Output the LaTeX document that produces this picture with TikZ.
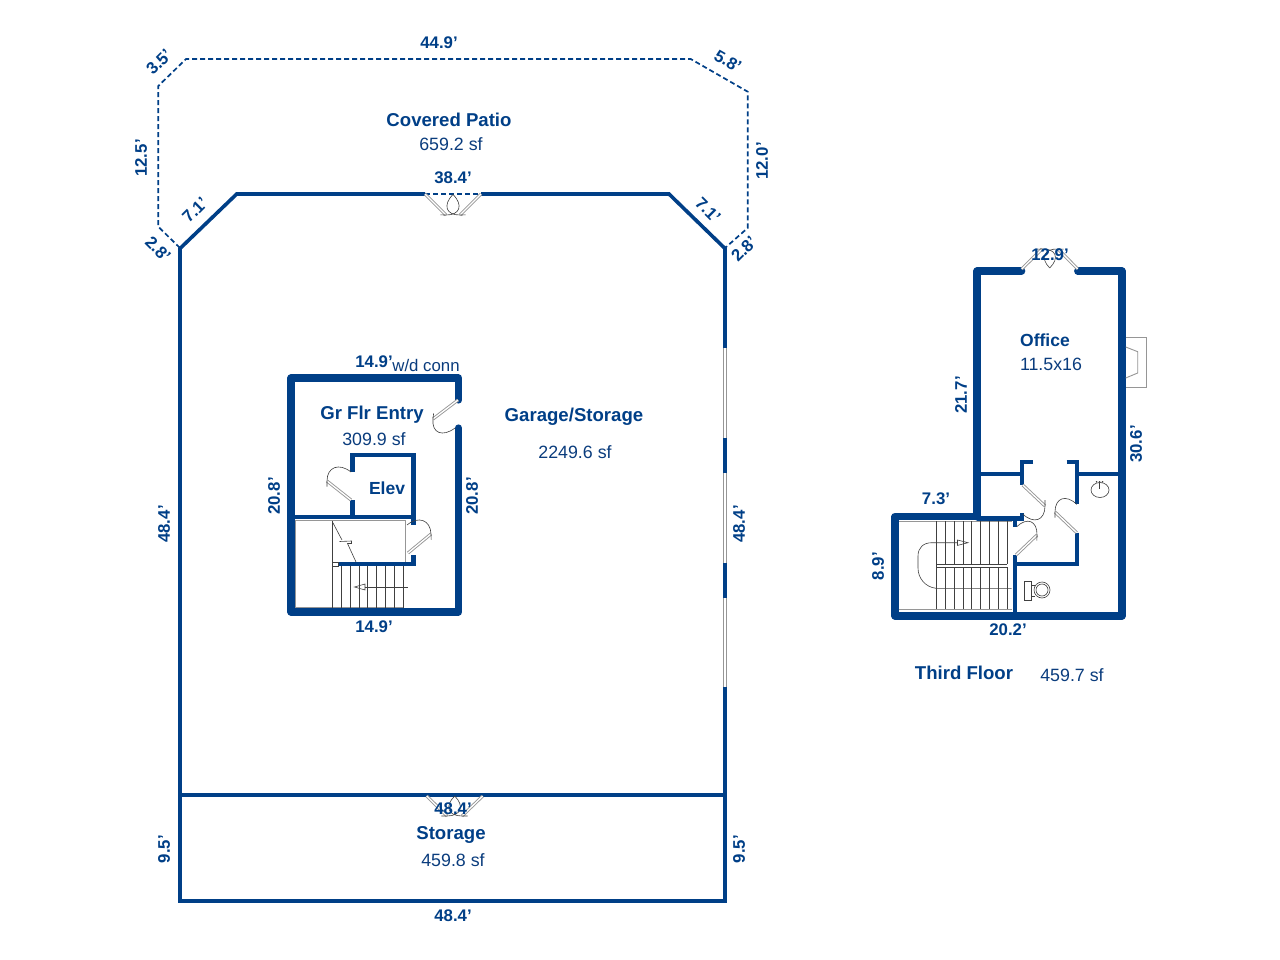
\documentclass[tikz,border=0pt]{standalone}
\usepackage{fontspec}
\setmainfont{Liberation Sans}
\usetikzlibrary{calc}
\definecolor{wallblue}{RGB}{0,63,135}
\definecolor{inkblue}{RGB}{10,60,125}
\definecolor{fixgray}{RGB}{150,150,150}
\tikzset{
  wallthick/.style={draw=wallblue,line width=7.2pt,line join=round,line cap=round},
  wallmid/.style={draw=wallblue,line width=4.2pt,line join=miter,line cap=butt},
  wallouter/.style={draw=wallblue,line width=3.6pt,line join=miter,line cap=butt},
  patiodash/.style={draw=wallblue,line width=1.7pt,dash pattern=on 5pt off 3pt},
  leafline/.style={draw=fixgray,line width=.9pt,double=white,double distance=1.3pt},
  fine/.style={draw=black!75,line width=.6pt},
  finegray/.style={draw=fixgray,line width=.9pt},
  dimt/.style={text=wallblue,inner sep=0pt,font=\bfseries\fontsize{16.8}{17}\selectfont},
  roomt/.style={text=wallblue,inner sep=0pt,font=\bfseries\fontsize{18.6}{19}\selectfont},
  areat/.style={text=inkblue,inner sep=0pt,font=\fontsize{17.8}{18}\selectfont},
}
\newcommand{\doorswing}[3]{%
  \draw[leafline] (#1) -- (#2);
  \draw[fine] ($(#2)-0.2*(#3)+0.2*(#1)$) -- (#2) .. controls ($(#2)+0.5*(#3)-0.5*(#1)$) and ($(#3)+0.5*(#2)-0.5*(#1)$) .. (#3);
}
\begin{document}
\begin{tikzpicture}[x=1pt,y=-1pt]
\useasboundingbox[fill=white] (0,0) rectangle (1280,960);

% ---- patio dashed outline
\draw[patiodash] (180,248) -- (158.3,226.7) -- (158.3,86) -- (186,59) -- (690.7,59) -- (747.7,91.7) -- (747.7,228) -- (725,248);
\draw[patiodash] (425,194) -- (481,194);

% ---- main building
\draw[wallouter] (425,194) -- (236.7,194) -- (180,248.5) -- (180,901) -- (725,901) -- (725,687);
\draw[wallouter] (481,194) -- (669,194) -- (725,248.5) -- (725,348);
\draw[wallouter] (725,438) -- (725,473);
\draw[wallouter] (725,563) -- (725,598);
\draw[wallouter] (180,794.7) -- (725,794.7);
\foreach \a/\b in {348/438,473/563,598/687}{
  \draw[draw=fixgray,line width=.9pt,double=white,double distance=2.4pt] (725,\a) -- (725,\b);
}
% French doors
\doorswing{425,194}{446,215}{453,194.5}
\doorswing{481,194}{460,215}{453,194.5}
\doorswing{426.7,796}{447,816}{454.7,796}
\doorswing{482.7,796}{462,816}{454.7,796}

% ---- Gr Flr Entry
\draw[wallthick] (458.5,400) -- (458.5,378) -- (291,378) -- (291,612) -- (458.5,612) -- (458.5,428);
\draw[wallmid] (352.5,472) -- (352.5,455) -- (413.5,455) -- (413.5,525);
\draw[wallmid] (352.5,500) -- (352.5,516.7);
\draw[wallmid] (293,516.7) -- (415.5,516.7);
\draw[wallmid] (413.5,555) -- (413.5,566);
\draw[wallmid] (338,564) -- (415.5,564);
\doorswing{458,400}{433,419}{455,428}
\doorswing{351,500}{327,481}{351,472}
\doorswing{408,553}{431,534}{407,525}
% stair
\draw[finegray] (295.5,607.5) -- (295.5,520.5) -- (405,520.5) -- (405,562);
\draw[finegray] (295.5,607.5) -- (403.3,607.5);
\draw[fine] (332.3,520.5) -- (332.3,607.5);
\foreach \x in {341.3,350,359,367.7,376.7,385.3,394.3,403.3}{\draw[fine] (\x,566) -- (\x,607.5);}
\draw[fine] (332.3,562.5) rectangle (338,566.5);
\draw[fine] (365,587) -- (408,587);
\draw[fine] (365,584) -- (354.5,587) -- (365,590) -- cycle;
\draw[fine] (332.5,522) -- (342,540);
\draw[fine] (339.5,541.5) -- (351.5,541) -- (351.5,543.5) -- (347.5,543.5) -- (356,562);

% ---- Third floor
\draw[wallthick] (1021.7,271) -- (977,271) -- (977,517);
\draw[wallthick] (1077.7,271) -- (1122,271) -- (1122,616) -- (895,616) -- (895,516.5) -- (977,516.5);
\draw[wallmid] (977,474) -- (1022,474);
\draw[wallmid] (1033,462.3) -- (1022,462.3) -- (1022,485);
\draw[wallmid] (1122,474) -- (1077,474);
\draw[wallmid] (1066.7,462.3) -- (1077,462.3) -- (1077,504.3);
\draw[wallmid] (1077,532.7) -- (1077,564) -- (1015,564);
\draw[wallmid] (1015,555) -- (1015,616);
\draw[wallmid] (977,518.5) -- (1024,518.5);
\draw[wallmid] (1022,513) -- (1022,520);
\draw[wallmid] (1015,518) -- (1015,527);
\doorswing{1022.7,485}{1045,506}{1022.7,514}
\doorswing{1076.7,532.7}{1055,512}{1076.7,504.3}
\doorswing{1016,555}{1037,535}{1016.7,526.7}
\doorswing{1021.7,269}{1042,249}{1049.7,268}
\doorswing{1077.7,269}{1058,249}{1049.7,268}
% fireplace
\draw[finegray] (1125.7,337.7) -- (1146,337.7) -- (1146,387.7) -- (1125.7,387.7);
\draw[finegray] (1125.7,347) -- (1137.7,351.7) -- (1137.7,373) -- (1125.7,378);
% third floor stair
\draw[finegray] (899,521) -- (1012,521);
\draw[finegray] (899,609.3) -- (1012,609.3);
\foreach \x in {936.3,945.3,954,963,971.7,980.7,989.7,998.3,1007.3}{
  \draw[fine] (\x,521) -- (\x,564);
  \draw[fine] (\x,567.3) -- (\x,609.3);
}
\draw[fine] (936.3,564) -- (1007.3,564);
\draw[fine] (936.3,567.3) -- (1007.3,567.3);
\draw[fine] (936.3,564) -- (936.3,567.3);
\draw[fine] (1011.7,588.3) -- (936,588.3) .. controls (925,587) and (918,578) .. (918,568) -- (918,556) .. controls (918,548) and (923,542.7) .. (932,542.7) -- (957.5,542.7);
\draw[fine] (957.5,540) -- (968,542.7) -- (957.5,545.4) -- cycle;
% sink and toilet
\draw[fine] (1100,490) ellipse [x radius=9,y radius=7.5];
\draw[fine] (1099.5,483) -- (1099.5,489);
\fill[black!80] (1096.5,481.8) circle (.8) (1099.5,481.8) circle (.8) (1102.5,481.8) circle (.8);
\draw[fine] (1024,581) rectangle (1031.7,600);
\draw[fine] (1031.7,585) -- (1034.5,585) (1031.7,596) -- (1034.5,596);
\draw[fine] (1042,590) circle (8);
\draw[fine] (1042,590) circle (6);

% ---- texts
\node[dimt] (t01) at (439,43) {44.9'};
\node[roomt] (t02) at (449,120) {Covered Patio};
\node[areat] (t03) at (451,144) {659.2 sf};
\node[dimt] (t04) at (453,178) {38.4'};
\node[dimt,rotate=45] (t05) at (159,62) {3.5'};
\node[dimt,rotate=-30] (t06) at (728,61) {5.8'};
\node[dimt,rotate=90] (t07) at (141,158) {12.5'};
\node[dimt,rotate=90] (t08) at (762,161) {12.0'};
\node[dimt,rotate=45] (t09) at (195,210) {7.1'};
\node[dimt,rotate=-45] (t10) at (708,210) {7.1'};
\node[dimt,rotate=-45] (t11) at (158,249) {2.8'};
\node[dimt,rotate=45] (t12) at (744,249) {2.8'};
\node[dimt,rotate=90] (t13) at (164,524) {48.4'};
\node[dimt,rotate=90] (t14) at (739,524) {48.4'};
\node[dimt] (t15) at (374,362) {14.9'};
\node[areat,font=\fontsize{16.8}{17}\selectfont] (t16) at (426,365) {w/d conn};
\node[roomt] (t17) at (372,415) {Gr Flr Entry};
\node[areat] (t18) at (374,439) {309.9 sf};
\node[roomt,font=\bfseries\fontsize{17.5}{18}\selectfont] (t19) at (387,488) {Elev};
\node[dimt,rotate=90] (t20) at (274,496) {20.8'};
\node[dimt,rotate=90] (t21) at (472,496) {20.8'};
\node[dimt] (t22) at (374,627) {14.9'};
\node[roomt] (t23) at (574,417) {Garage/Storage};
\node[areat] (t24) at (575,452) {2249.6 sf};
\node[dimt] (t25) at (453,809) {48.4'};
\node[roomt] (t26) at (451,835) {Storage};
\node[areat] (t27) at (453,860) {459.8 sf};
\node[dimt,rotate=90] (t28) at (164,849) {9.5'};
\node[dimt,rotate=90] (t29) at (739,849) {9.5'};
\node[dimt] (t30) at (453,916) {48.4'};
\node[roomt,font=\bfseries\fontsize{17.5}{18}\selectfont] (t31) at (1045,340) {Office};
\node[areat] (t32) at (1051,364) {11.5x16};
\node[dimt] (t33) at (1050,255) {12.9'};
\node[dimt,rotate=90] (t34) at (961,395) {21.7'};
\node[dimt,rotate=90] (t35) at (1136,444) {30.6'};
\node[dimt] (t36) at (936,499) {7.3'};
\node[dimt,rotate=90] (t37) at (878,566) {8.9'};
\node[dimt] (t38) at (1008,630) {20.2'};
\node[roomt] (t39) at (964,673) {Third Floor};
\node[areat] (t40) at (1072,675) {459.7 sf};
\end{tikzpicture}
\end{document}
